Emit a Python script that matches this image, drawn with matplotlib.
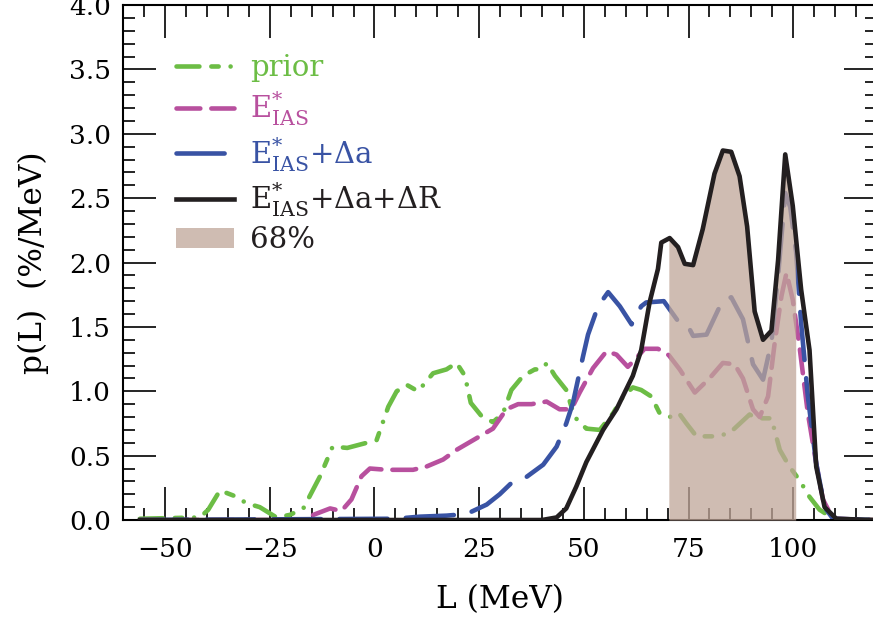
import numpy as np
import matplotlib
matplotlib.use('Agg')
import matplotlib.pyplot as plt
from matplotlib.patches import Patch
from matplotlib.lines import Line2D

plt.rcParams['font.family'] = ['DejaVu Serif']
plt.rcParams['mathtext.fontset'] = 'dejavuserif'

# prior
L_prior = [-56, -41.7, -39.7, -36.9, -33.7, -30.5, -27.4, -23.4, -20.2, -17.0, -13.0, -10.0,
           -6.5, 0.5, 3.3, 5.3, 7.7, 10.4, 14.0, 17.2, 19.6, 21.6, 23.0, 25.5, 28.3, 30.7,
           32.7, 35.5, 38.3, 39.9, 41.2, 43.1, 45.8, 47.8, 50.6, 53.8, 57.0, 59.4, 61.7,
           63.7, 66.1, 68.1, 70.5, 72.7, 74.5, 76.9, 81.6, 84.8, 89.6, 91.2, 94.8, 96.8,
           99.1, 101.5, 103.9, 106.3, 108.7, 111.0, 119]
p_prior = [0.01, 0.02, 0.08, 0.23, 0.19, 0.13, 0.10, 0.02, 0.04, 0.09, 0.34, 0.57,
           0.56, 0.62, 0.88, 1.00, 1.05, 1.00, 1.14, 1.17, 1.22, 1.12, 0.91, 0.81, 0.76, 0.83,
           1.01, 1.12, 1.17, 1.17, 1.22, 1.12, 1.01, 0.80, 0.71, 0.70, 0.83, 0.96, 1.03,
           1.01, 0.96, 0.83, 0.80, 0.83, 0.75, 0.65, 0.65, 0.675, 0.82, 0.79, 0.79, 0.545,
           0.415, 0.31, 0.18, 0.08, 0.03, 0.0, 0.0]

# E*_IAS
L_ias = [-56, -17.0, -14.6, -10.6, -7.9, -5.5, -3.1, -1.1, 2.9, 9.2, 12.4, 16.4, 19.6,
         24.4, 28.3, 31.5, 34.3, 37.5, 41.1, 44.2, 47.0, 49.0, 52.2, 55.4, 57.8, 60.5,
         62.6, 64.5, 67.7, 70.3, 72.9, 76.5, 80.0, 83.2, 86.0, 88.0, 90.4, 92.0, 94.0,
         95.6, 97.2, 98.4, 99.9, 101.5, 103.5, 105.5, 107.1, 109.5, 119]
p_ias = [0.0, 0.0, 0.04, 0.09, 0.07, 0.16, 0.34, 0.40, 0.39, 0.39, 0.415, 0.47, 0.545,
         0.636, 0.71, 0.86, 0.90, 0.90, 0.92, 0.86, 0.86, 0.99, 1.18, 1.31, 1.285, 1.19,
         1.26, 1.33, 1.33, 1.28, 1.17, 0.99, 1.10, 1.22, 1.21, 1.10, 0.86, 0.80, 0.96,
         1.38, 1.74, 1.92, 1.71, 1.35, 0.83, 0.44, 0.16, 0.01, 0.0]

# E*_IAS + da
L_da = [-56, 5.0, 10.8, 17.2, 22.0, 26.8, 29.9, 33.1, 35.9, 40.3, 43.5, 45.8, 47.4,
        49.8, 51.0, 53.4, 55.8, 58.6, 61.4, 63.7, 64.9, 69.1, 72.5, 74.5, 76.1, 79.3,
        83.2, 85.2, 88.0, 90.4, 92.8, 94.8, 96.4, 98.1, 99.3, 100.7, 101.9, 103.5, 105.5,
        107.5, 109.5, 119]
p_da = [0.0, 0.01, 0.026, 0.034, 0.047, 0.12, 0.20, 0.30, 0.325, 0.43, 0.57, 0.75, 0.91,
        1.27, 1.44, 1.66, 1.77, 1.66, 1.52, 1.66, 1.69, 1.70, 1.545, 1.53, 1.43, 1.44,
        1.71, 1.73, 1.56, 1.21, 1.09, 1.38, 1.90, 2.54, 2.43, 2.08, 1.53, 0.96, 0.44,
        0.10, 0.01, 0.0]

# E*_IAS + da + dR
L_full = [-56, 40.0, 43.5, 45.8, 48.2, 50.6, 54.6, 57.8, 61.7, 63.7, 65.7, 67.7, 68.5,
          70.5, 72.5, 74.1, 76.1, 78.4, 81.2, 83.2, 85.2, 87.2, 89.0, 90.8, 92.8, 94.8,
          96.4, 98.1, 99.9, 101.9, 103.9, 105.5, 107.5, 110.3, 119]
p_full = [0.0, 0.0, 0.02, 0.09, 0.26, 0.45, 0.70, 0.86, 1.12, 1.32, 1.69, 1.95, 2.155,
          2.19, 2.12, 1.99, 1.98, 2.26, 2.69, 2.87, 2.86, 2.67, 2.28, 1.62, 1.40, 1.47,
          2.02, 2.84, 2.44, 1.79, 1.32, 0.415, 0.10, 0.01, 0.0]

# 68% interval
ci_lo, ci_hi = 70.3, 100.6

green = '#6cbd45'
magenta = '#b8509e'
blue = '#3953a4'
black = '#231f20'
shade = '#c0a698'

lw = 3.3
ls_prior = (0, (5.0, 2.6, 1.6, 2.6, 0.01, 2.6))
ls_ias = (0, (5.2, 2.4))
ls_da = (0, (10.5, 4.0))

fig = plt.figure(figsize=(8.73, 6.23), dpi=100)
ax = fig.add_axes([0.1412, 0.1653, 0.8633, 0.8266])

ax.plot(L_prior, p_prior, color=green, lw=lw, dash_capstyle='round', linestyle=ls_prior, zorder=2)
ax.plot(L_ias, p_ias, color=magenta, lw=lw, dash_capstyle='round', linestyle=ls_ias, zorder=2)
ax.plot(L_da, p_da, color=blue, lw=lw, dash_capstyle='round', linestyle=ls_da, zorder=2)

Lf = np.array(L_full)
pf = np.array(p_full)
inside = (Lf > ci_lo) & (Lf < ci_hi)
xs = np.concatenate([[ci_lo], Lf[inside], [ci_hi]])
ys = np.concatenate([[np.interp(ci_lo, Lf, pf)], pf[inside], [np.interp(ci_hi, Lf, pf)]])
ax.fill_between(xs, 0, ys, color=shade, alpha=0.75, lw=0, zorder=3)

ax.plot(L_full, p_full, color=black, lw=lw, zorder=4)

ax.set_xlim(-60, 120)
ax.set_ylim(0, 4.0)
ax.set_xticks([-50, -25, 0, 25, 50, 75, 100])
ax.set_xticks(np.arange(-55, 120, 5), minor=True)
ax.set_yticks(np.arange(0, 4.01, 0.5))
ax.set_yticks(np.arange(0, 4.01, 0.1), minor=True)
ax.set_yticklabels(['%.1f' % v for v in np.arange(0, 4.01, 0.5)])
ax.tick_params(which='both', direction='in', top=True, right=True, width=1.2, labelsize=19)
ax.tick_params(which='major', length=24)
ax.tick_params(which='minor', length=8.5)
ax.tick_params(axis='x', pad=12)
ax.tick_params(axis='y', pad=9)
for s in ax.spines.values():
    s.set_linewidth(1.5)

ax.set_xlabel('L (MeV)', fontsize=22.5, labelpad=16)
ax.set_ylabel('p(L)  (%/MeV)', fontsize=22.5, labelpad=14)

handles = [
    Line2D([], [], color=green, lw=lw, dash_capstyle='round', linestyle=ls_prior),
    Line2D([], [], color=magenta, lw=lw, dash_capstyle='round', linestyle=ls_ias),
    Line2D([], [], color=blue, lw=lw, dash_capstyle='round', linestyle=ls_da),
    Line2D([], [], color=black, lw=lw),
    Patch(facecolor=shade, alpha=0.75, lw=0),
]
labels = ['prior', r'$\mathrm{E}^{*}_{\mathrm{IAS}}$', r'$\mathrm{E}^{*}_{\mathrm{IAS}}$+Δa',
          r'$\mathrm{E}^{*}_{\mathrm{IAS}}$+Δa+ΔR', '68%']
leg = ax.legend(handles, labels, loc='upper left', bbox_to_anchor=(0.035, 0.955),
                frameon=False, fontsize=21, handlelength=2.0, handletextpad=0.55,
                labelspacing=0.24)
for t, c in zip(leg.get_texts(), [green, magenta, blue, black, black]):
    t.set_color(c)

fig.savefig('out.png', dpi=100)
